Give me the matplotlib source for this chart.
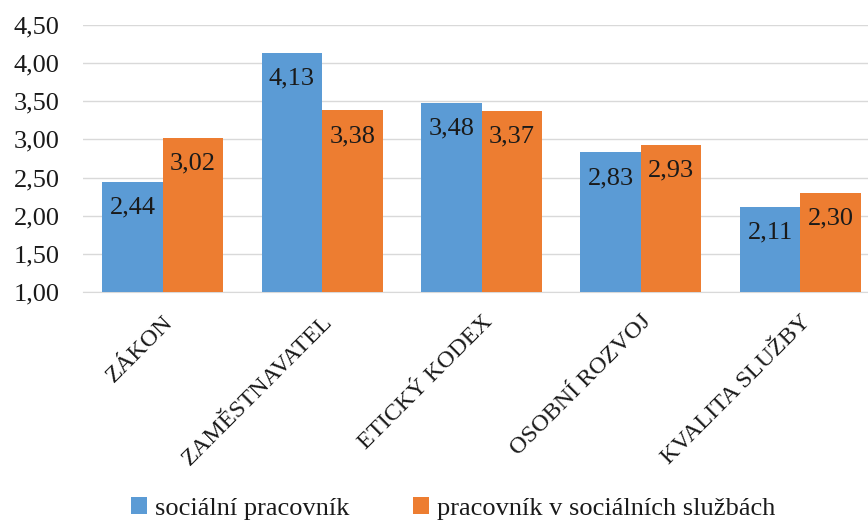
import matplotlib
matplotlib.use("Agg")
import matplotlib.pyplot as plt
import numpy as np

categories = ["ZÁKON", "ZAMĚSTNAVATEL", "ETICKÝ KODEX", "OSOBNÍ ROZVOJ", "KVALITA SLUŽBY"]
series_names = ["sociální pracovník", "pracovník v sociálních službách"]
social_worker = [2.44, 4.13, 3.48, 2.83, 2.11]
service_worker = [3.02, 3.38, 3.37, 2.93, 2.30]
yticks = [1.0, 1.5, 2.0, 2.5, 3.0, 3.5, 4.0, 4.5]

plt.rcParams['font.family'] = ['Liberation Serif', 'DejaVu Serif']

fig = plt.figure(figsize=(8.68, 5.23), dpi=100)
ax = fig.add_axes([83/868, 1 - 292/523, (880 - 83)/868, (292 - 25)/523])

x = np.arange(len(categories))
w = 0.38
colors = ["#5B9BD5", "#ED7D31"]
b1 = ax.bar(x - w/2, social_worker, w, color=colors[0], label=series_names[0], zorder=3)
b2 = ax.bar(x + w/2, service_worker, w, color=colors[1], label=series_names[1], zorder=3)

def fmt(v):
    return f"{v:.2f}".replace(".", ",")

for bars, vals in ((b1, social_worker), (b2, service_worker)):
    for rect, v in zip(bars, vals):
        ax.annotate(fmt(v), (rect.get_x() + rect.get_width()/2, v),
                    xytext=(0, -10.5), textcoords="offset points",
                    ha="center", va="top", fontsize=19, color="#1a1a1a", zorder=4)

ax.set_ylim(1.0, 4.5)
ax.set_xlim(-0.5, len(categories) - 0.5)
ax.set_yticks(yticks)
ax.set_yticklabels([fmt(v) for v in yticks], fontsize=19, color="#1a1a1a")
ax.yaxis.grid(True, color="#D9D9D9", linewidth=1, zorder=0)
ax.tick_params(axis="y", length=0, pad=17)
ax.tick_params(axis="x", length=0, pad=14)
ax.set_xticks(x)
ax.set_xticklabels(categories, rotation=45, ha="right", rotation_mode="anchor",
                   fontsize=17.5, color="#1a1a1a")
for s in ("left", "right", "top"):
    ax.spines[s].set_visible(False)
ax.spines["bottom"].set_color("#D9D9D9")

leg = fig.legend(handles=[b1, b2], labels=series_names, loc="lower center",
                 bbox_to_anchor=(0.522, -0.04), ncol=2, frameon=False,
                 fontsize=19, handlelength=0.6, handleheight=0.6,
                 handletextpad=0.3, columnspacing=2.4, labelcolor="#1a1a1a")

fig.savefig("out.png", dpi=100)
